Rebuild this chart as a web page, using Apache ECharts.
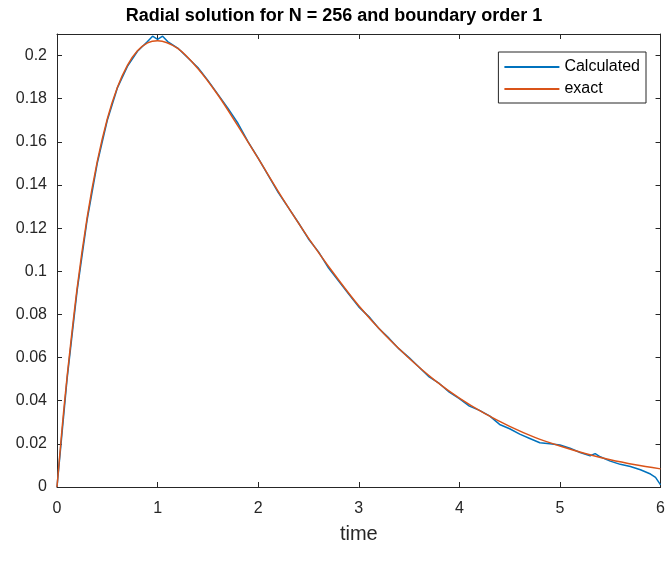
<!DOCTYPE html>
<html><head><meta charset="utf-8">
<script src="https://cdn.jsdelivr.net/npm/echarts@6/dist/echarts.min.js"></script>
<style>html,body{margin:0;padding:0;background:#fff}#c{width:668px;height:574px}</style>
</head><body><div id="c"></div>
<script>
const titleText = 'Radial solution for N = 256 and boundary order 1';
const xLabel = 'time';
const seriesNames = ['Calculated', 'exact'];
const calcT = [0,0.1,0.2,0.3,0.4,0.5,0.6,0.7,0.8,0.9,0.95,1.0,1.05,1.1,1.2,1.3,1.4,1.5,1.6,1.7,1.8,1.9,2.0,2.1,2.2,2.3,2.4,2.5,2.6,2.7,2.8,2.9,3.0,3.1,3.2,3.3,3.4,3.5,3.6,3.7,3.8,3.9,4.0,4.1,4.2,4.3,4.4,4.5,4.6,4.7,4.8,4.9,5.0,5.1,5.2,5.3,5.35,5.4,5.5,5.6,5.7,5.8,5.9,5.95,6.0];
const calcV = [0,0.050,0.091,0.124,0.150,0.170,0.185,0.195,0.202,0.2065,0.209,0.2075,0.209,0.2065,0.2035,0.199,0.1945,0.1885,0.182,0.1755,0.1685,0.160,0.1525,0.1445,0.1365,0.1295,0.1225,0.1150,0.1090,0.1015,0.0955,0.0895,0.0835,0.0790,0.0735,0.0690,0.0640,0.0600,0.0555,0.0510,0.0480,0.0440,0.0410,0.0375,0.0355,0.0330,0.0290,0.0270,0.0245,0.0225,0.0205,0.0200,0.0195,0.0180,0.0160,0.0145,0.0155,0.0140,0.0120,0.0105,0.0095,0.0080,0.0060,0.0045,0.0010];
const exactT = [0,0.05,0.1,0.2,0.3,0.4,0.5,0.6,0.7,0.8,0.9,1.0,1.2,1.4,1.6,1.8,2.0,2.25,2.5,2.75,3.0,3.25,3.5,3.75,4.0,4.25,4.5,4.75,5.0,5.25,5.5,5.75,6.0];
const exactV = [0,0.0268,0.0509,0.0921,0.125,0.1508,0.1706,0.1852,0.1955,0.2022,0.2059,0.2069,0.2033,0.1940,0.1817,0.1673,0.1523,0.1332,0.1154,0.0991,0.0840,0.0710,0.0597,0.0497,0.0412,0.0341,0.0281,0.0230,0.0190,0.0155,0.0126,0.0103,0.0084];

const chart = echarts.init(document.getElementById('c'));
const txt = '#262626', ax = '#262626';
const font = '"Liberation Sans", Arial, sans-serif';
const pair = (t, v) => t.map((x, i) => [x, v[i]]);
const axisCommon = {
  axisLine: {show: true, onZero: false, lineStyle: {color: ax, width: 1}},
  axisTick: {show: true, inside: true, length: 5, lineStyle: {color: ax}},
  splitLine: {show: false}
};
chart.setOption({
  animation: false,
  backgroundColor: '#fff',
  textStyle: {fontFamily: font},
  title: {text: titleText, left: 'center', top: 2,
    textStyle: {fontFamily: font, fontSize: 18, fontWeight: 'bold', color: '#000'}},
  legend: {
    right: 22, top: 52, orient: 'vertical',
    backgroundColor: '#fff', borderColor: ax, borderWidth: 1,
    padding: [7, 6, 6, 6], itemGap: 6,
    itemWidth: 55, itemHeight: 2, icon: 'rect',
    textStyle: {fontFamily: font, fontSize: 16, lineHeight: 16, color: '#000'},
    data: seriesNames
  },
  grid: {left: 57, right: 7, top: 34, bottom: 87, containLabel: false},
  xAxis: [
    Object.assign({type: 'value', min: 0, max: 6, interval: 1, position: 'bottom',
      name: xLabel, nameLocation: 'middle', nameGap: 37,
      nameTextStyle: {fontFamily: font, fontSize: 20, color: txt},
      axisLabel: {fontFamily: font, fontSize: 16, color: txt, margin: 14}}, axisCommon),
    Object.assign({type: 'value', min: 0, max: 6, interval: 1, position: 'top',
      axisLabel: {show: false}}, axisCommon)
  ],
  yAxis: [
    Object.assign({type: 'value', min: 0, max: 0.21, interval: 0.02, position: 'left',
      axisLabel: {fontFamily: font, fontSize: 16, color: txt, margin: 10, showMaxLabel: false,
        formatter: v => String(+v.toFixed(2))}}, axisCommon),
    Object.assign({type: 'value', min: 0, max: 0.21, interval: 0.02, position: 'right',
      axisLabel: {show: false}}, axisCommon)
  ],
  series: [
    {name: seriesNames[0], type: 'line', data: pair(calcT, calcV), showSymbol: false,
      lineStyle: {color: '#0072BD', width: 1.5}, itemStyle: {color: '#0072BD'}, z: 2},
    {name: seriesNames[1], type: 'line', data: pair(exactT, exactV), showSymbol: false, smooth: 0.3,
      lineStyle: {color: '#D95319', width: 1.5}, itemStyle: {color: '#D95319'}, z: 3}
  ]
});
</script></body></html>
